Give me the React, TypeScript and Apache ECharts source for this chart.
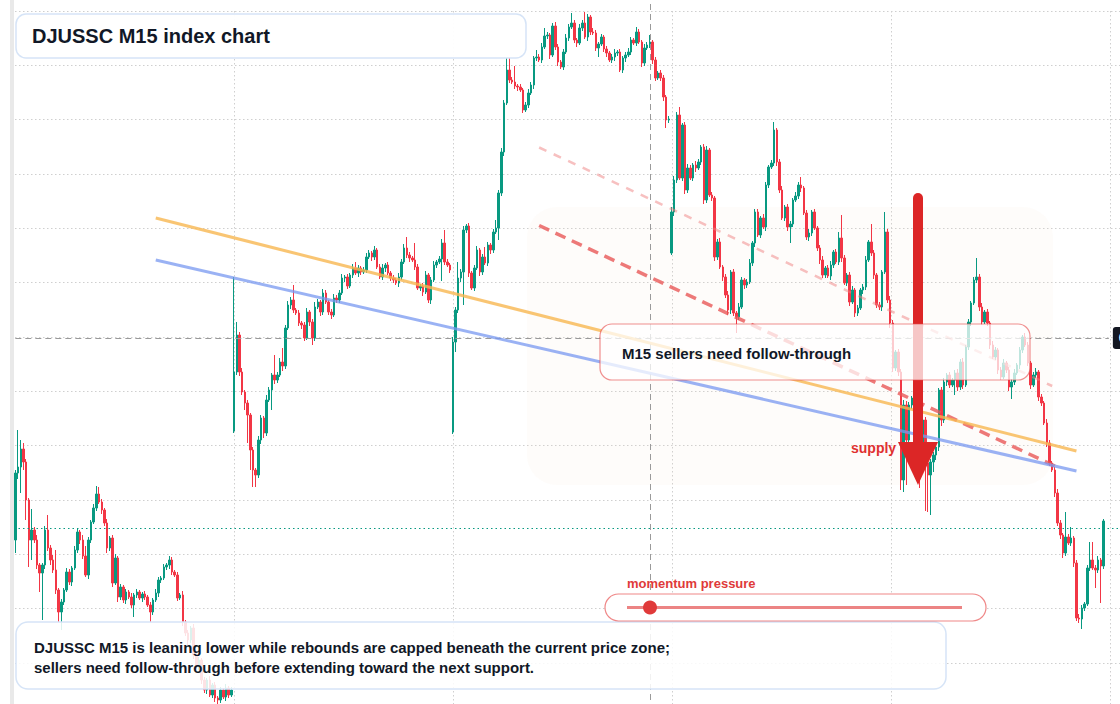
import React, { useEffect, useRef } from "react";
import * as echarts from "echarts";

// ---- data (index price units) ----
const closes = [
  527, 533, 551, 538, 500, 460, 470, 460, 435, 427,
  435, 470, 452, 440, 430, 410, 388, 398, 410, 428,
  418, 432, 450, 468, 460, 444, 425, 460, 478, 492,
  506, 498, 490, 477, 452, 462, 417, 442, 403, 413,
  400, 408, 403, 395, 405, 408, 402, 406, 403, 395,
  388, 400, 407, 420, 422, 433, 435, 440, 428, 425,
  402, 405, 378, 367, 360, 372, 345, 333, 340, 320,
  310, 320, 305, 315, 302, 300, 310, 303, 312, 305,
  310, 628, 665, 628, 608, 597, 585, 550, 530, 525,
  560, 582, 567, 600, 610, 625, 620, 625, 638, 634,
  672, 695, 700, 690, 687, 677, 675, 662, 688, 678,
  662, 693, 698, 688, 707, 698, 688, 685, 702, 700,
  707, 722, 723, 714, 725, 732, 727, 732, 728, 730,
  743, 747, 743, 750, 733, 723, 732, 735, 727, 722,
  720, 717, 723, 738, 752, 745, 742, 740, 733, 712,
  714, 708, 725, 700, 720, 735, 738, 741, 757, 738,
  735, 730, 658, 690, 722, 728, 770, 774, 727, 712,
  732, 750, 728, 743, 737, 755, 750, 768, 772, 807,
  848, 897, 930, 920, 918, 914, 913, 910, 890, 895,
  907, 915, 942, 943, 940, 953, 964, 965, 945, 974,
  953, 938, 933, 948, 962, 973, 977, 960, 957, 972,
  977, 963, 983, 968, 967, 952, 956, 963, 951, 947,
  940, 943, 947, 948, 930, 942, 945, 948, 960, 957,
  968, 958, 937, 952, 955, 958, 940, 922, 927, 922,
  903, 880, 881, 788, 820, 885, 822, 875, 810, 832,
  822, 835, 832, 838, 853, 800, 850, 805, 802, 743,
  758, 733, 723, 705, 690, 728, 687, 683, 693, 720,
  715, 718, 737, 757, 788, 765, 782, 773, 815, 833,
  837, 870, 838, 810, 782, 793, 773, 776, 800, 804,
  815, 812, 787, 763, 767, 788, 772, 752, 740, 725,
  732, 724, 735, 748, 738, 762, 742, 717, 725, 698,
  710, 687, 692, 710, 713, 740, 758, 747, 725, 695,
  693, 728, 768, 700, 677, 632, 648, 628, 520, 595,
  560, 595, 602, 580, 560, 557, 580, 537, 525, 538,
  545, 553, 610, 580, 618, 625, 615, 620, 627, 613,
  638, 615, 653, 678, 697, 720, 723, 693, 678, 688,
  677, 655, 643, 650, 630, 623, 637, 630, 613, 618,
  627, 635, 650, 663, 655, 637, 615, 625, 628, 603,
  597, 577, 557, 537, 530, 507, 477, 465, 447, 463,
  457, 462, 437, 382, 381, 392, 396, 432, 440, 432,
  430, 440, 434, 479,
];

// upper / lower shadow lengths beyond the body
const wickHi = [
  3, 37, 9, 6, 3, 2, 21, 3, 5, 2,
  2, 4, 15, 3, 5, 20, 2, 3, 2, 4,
  3, 2, 4, 3, 2, 5, 10, 3, 2, 4,
  8, 7, 3, 2, 4, 2, 3, 4, 2, 3,
  2, 3, 2, 4, 2, 3, 2, 2, 3, 2,
  3, 2, 4, 3, 2, 3, 2, 4, 3, 2,
  3, 2, 4, 2, 3, 2, 4, 2, 3, 2,
  3, 2, 4, 2, 3, 2, 3, 2, 4, 2,
  3, 95, 13, 3, 4, 2, 3, 2, 3, 2,
  4, 3, 2, 5, 3, 2, 20, 3, 4, 14,
  3, 4, 3, 15, 2, 3, 2, 3, 4, 2,
  3, 5, 3, 2, 4, 3, 2, 3, 4, 3,
  3, 4, 2, 3, 2, 4, 6, 3, 2, 3,
  4, 3, 2, 4, 2, 3, 4, 2, 3, 2,
  3, 2, 4, 3, 4, 11, 3, 2, 17, 3,
  2, 3, 4, 2, 3, 4, 2, 3, 4, 13,
  3, 2, 5, 3, 16, 3, 4, 2, 3, 2,
  3, 4, 2, 3, 10, 3, 2, 3, 8, 3,
  4, 3, 12, 12, 3, 16, 2, 3, 2, 3,
  4, 3, 2, 7, 3, 4, 8, 3, 2, 3,
  4, 3, 2, 3, 4, 3, 10, 3, 2, 4,
  3, 11, 3, 2, 4, 3, 2, 3, 2, 3,
  2, 3, 4, 2, 3, 2, 3, 4, 3, 2,
  5, 3, 2, 4, 3, 7, 2, 3, 2, 3,
  3, 2, 3, 5, 4, 3, 8, 2, 3, 4,
  3, 2, 4, 3, 2, 3, 4, 2, 3, 2,
  3, 4, 2, 3, 4, 2, 3, 2, 4, 3,
  2, 3, 4, 2, 3, 3, 2, 4, 3, 2,
  3, 8, 2, 3, 4, 2, 3, 3, 2, 4,
  3, 8, 2, 3, 4, 2, 3, 2, 3, 4,
  2, 3, 4, 2, 3, 6, 23, 3, 2, 3,
  4, 2, 3, 2, 3, 4, 2, 18, 3, 2,
  3, 2, 20, 3, 4, 3, 2, 3, 3, 5,
  4, 3, 2, 3, 4, 3, 2, 3, 4, 3,
  3, 4, 2, 3, 4, 2, 3, 2, 3, 4,
  3, 4, 2, 3, 2, 3, 19, 3, 4, 2,
  3, 2, 4, 3, 2, 3, 4, 2, 3, 3,
  4, 2, 3, 2, 4, 3, 2, 3, 4, 2,
  3, 2, 4, 3, 2, 3, 4, 3, 2, 25,
  3, 11, 2, 3, 4, 3, 2, 3, 18, 18,
  3, 4, 2, 2,
];

const wickLo = [
  13, 6, 26, 8, 20, 27, 20, 3, 4, 19,
  47, 4, 3, 5, 3, 4, 10, 18, 3, 2,
  3, 4, 2, 3, 4, 3, 2, 4, 3, 2,
  3, 2, 4, 3, 5, 3, 4, 2, 5, 3,
  3, 4, 2, 3, 12, 3, 2, 4, 3, 2,
  10, 3, 2, 4, 3, 2, 3, 4, 3, 2,
  3, 2, 4, 3, 5, 3, 4, 2, 3, 4,
  3, 4, 2, 3, 4, 6, 3, 2, 4, 3,
  2, 2, 3, 4, 3, 7, 28, 20, 17, 12,
  3, 4, 5, 3, 2, 20, 4, 3, 2, 5,
  3, 2, 4, 3, 2, 3, 4, 3, 2, 4,
  7, 3, 2, 4, 3, 2, 3, 4, 2, 3,
  3, 2, 4, 3, 2, 3, 2, 4, 3, 2,
  3, 2, 4, 3, 2, 2, 3, 4, 2, 3,
  3, 2, 4, 3, 2, 3, 4, 2, 3, 2,
  3, 4, 2, 3, 4, 2, 3, 2, 22, 3,
  2, 3, 2, 10, 3, 4, 33, 3, 4, 2,
  3, 2, 4, 3, 2, 3, 4, 3, 2, 12,
  3, 4, 2, 3, 2, 3, 4, 2, 3, 2,
  3, 2, 4, 3, 2, 3, 2, 3, 4, 2,
  3, 4, 2, 3, 2, 3, 2, 3, 4, 2,
  3, 2, 4, 3, 2, 3, 9, 2, 3, 4,
  2, 3, 4, 3, 2, 3, 4, 2, 3, 2,
  3, 2, 4, 3, 2, 3, 4, 3, 2, 3,
  4, 8, 3, 2, 4, 3, 2, 3, 4, 3,
  2, 3, 4, 2, 3, 4, 3, 2, 3, 4,
  3, 2, 4, 3, 5, 4, 3, 16, 3, 2,
  4, 3, 2, 3, 4, 2, 3, 2, 4, 3,
  2, 3, 4, 3, 2, 3, 4, 16, 3, 2,
  3, 4, 2, 3, 4, 3, 2, 3, 4, 3,
  3, 2, 4, 3, 2, 3, 4, 2, 3, 4,
  2, 4, 3, 2, 4, 3, 2, 3, 4, 3,
  3, 4, 2, 3, 5, 4, 3, 4, 10, 12,
  45, 6, 4, 5, 12, 45, 8, 48, 37, 40,
  10, 5, 4, 6, 3, 4, 3, 2, 15, 4,
  3, 4, 2, 3, 4, 2, 3, 4, 3, 2,
  3, 4, 2, 3, 4, 3, 2, 3, 4, 12,
  3, 2, 4, 3, 2, 3, 4, 2, 3, 4,
  3, 2, 4, 3, 2, 4, 3, 4, 5, 3,
  2, 3, 4, 3, 4, 10, 3, 2, 3, 2,
  18, 3, 37, 3,
];

// opens that gap away from the previous close
const gapOpens: Record<number, number> = { 0: 460, 81: 569, 162: 568, 243: 747 };

// annotation levels / trend lines [candle index, price]
const resistanceTrend = [[52, 782], [393, 549]];
const supportTrend = [[52, 740], [393, 529]];
const channelTop = [[194, 852.5], [384, 614]];
const channelBottom = [[194, 774.5], [385, 534]];
const crosshairIndex = 235;
const crosshairPrice = 662;
const crosshairLabel = "662.00";
const lastPriceLine = 472;
const slotCount = 425;

const categories = Array.from({ length: slotCount }, (_, i) => {
  const total = 9 * 60 + 30 + 15 * i;
  const day = Math.floor(total / 1440) + 1;
  const m = total % 1440;
  const hh = String(Math.floor(m / 60)).padStart(2, "0");
  const mm = String(m % 60).padStart(2, "0");
  return `D${day} ${hh}:${mm}`;
});

const candleData = closes.map((c, i) => {
  const o = gapOpens[i] !== undefined ? gapOpens[i] : closes[i - 1];
  const hi = Math.max(o, c) + wickHi[i];
  const lo = Math.min(o, c) - wickLo[i];
  return [o, c, lo, hi];
});

const FONT = '"Liberation Sans", Arial, Helvetica, sans-serif';
const UP = "#089981";
const DOWN = "#f23645";
const GRID_LINE = { color: "#cfcfcf", width: 1, type: [1.5, 2.5] as any };

function seg(pts: number[][], lineStyle: any, extra: any = {}) {
  return [
    { coord: pts[0], lineStyle, ...extra },
    { coord: pts[1] },
  ];
}

export default function App() {
  const ref = useRef<HTMLDivElement>(null);
  useEffect(() => {
    if (!ref.current) return;
    const chart = echarts.init(ref.current, undefined, { renderer: "svg" });
    const option: any = {
      animation: false,
      backgroundColor: "#ffffff",
      grid: [
        { left: 14, top: 0, width: 1147.5, height: 760, containLabel: false },
        { left: 15, top: 11, width: 1314, height: 706.3, containLabel: false },
      ],
      xAxis: [
        {
          type: "category",
          gridIndex: 0,
          data: categories,
          boundaryGap: true,
          show: false,
        },
        {
          type: "value",
          gridIndex: 1,
          min: 0,
          max: 6,
          interval: 1,
          axisLine: { show: false },
          axisTick: { show: false },
          axisLabel: { show: false },
          splitLine: { show: true, showMinLine: false, lineStyle: GRID_LINE },
        },
      ],
      yAxis: [
        { type: "value", gridIndex: 0, min: 240, max: 1000, show: false, splitLine: { show: false } },
        {
          type: "value",
          gridIndex: 1,
          min: 0,
          max: 13,
          interval: 1,
          axisLine: { show: false },
          axisTick: { show: false },
          axisLabel: { show: false },
          splitLine: { show: true, lineStyle: GRID_LINE },
        },
      ],
      series: [
        {
          type: "candlestick",
          xAxisIndex: 0,
          yAxisIndex: 0,
          data: candleData,
          barWidth: 2,
          itemStyle: {
            color: UP,
            color0: DOWN,
            borderColor: UP,
            borderColor0: DOWN,
            borderWidth: 1,
          },
          markLine: {
            silent: true,
            symbol: ["none", "none"],
            label: { show: false },
            data: [
              [
                {
                  coord: [0, crosshairPrice],
                  lineStyle: { color: "#9a9a9a", width: 1, type: [6, 4] },
                  label: {
                    show: true,
                    position: "end",
                    distance: 4,
                    formatter: crosshairLabel,
                    backgroundColor: "#131722",
                    color: "#ffffff",
                    fontFamily: FONT,
                    fontSize: 12,
                    fontWeight: "bold",
                    padding: [5, 6],
                    borderRadius: 3,
                  },
                },
                { coord: [405, crosshairPrice] },
              ],
              { xAxis: crosshairIndex, lineStyle: { color: "#9a9a9a", width: 1, type: [6, 4] } },
              { yAxis: lastPriceLine, lineStyle: { color: UP, width: 1.2, type: [1.5, 3] } },
              seg(channelTop, { color: "rgba(240, 130, 130, 0.5)", width: 2.5, type: [8, 8] }),
              seg(channelBottom, { color: "rgba(232, 88, 88, 0.8)", width: 3.5, type: [11, 7] }),
              seg(resistanceTrend, { color: "rgba(247, 183, 80, 0.8)", width: 3, type: "solid" }),
              seg(supportTrend, { color: "rgba(120, 152, 240, 0.75)", width: 3, type: "solid" }),
            ],
          },
        },
      ],
      graphic: [
        { type: "rect", z: 1, silent: true, shape: { x: 10, y: 0, width: 4, height: 704 }, style: { fill: "#e9e9e9" } },
        {
          type: "rect",
          z: 1,
          silent: true,
          shape: { x: 527, y: 207, width: 526, height: 278, r: 30 },
          style: { fill: "rgba(250, 226, 204, 0.1)" },
        },
        // supply arrow
        {
          type: "line",
          z: 20,
          silent: true,
          shape: { x1: 918, y1: 198, x2: 918, y2: 450 },
          style: { stroke: "#dc2626", lineWidth: 10, lineCap: "round" },
        },
        {
          type: "polygon",
          z: 20,
          silent: true,
          shape: { points: [[898, 442], [938, 442], [918, 485]] },
          style: { fill: "#dc2626" },
        },
        {
          type: "text",
          z: 21,
          silent: true,
          style: { x: 851, y: 448, text: "supply", fill: "#e03131", font: `bold 14px ${FONT}`, verticalAlign: "middle" },
        },
        // callout
        {
          type: "rect",
          z: 30,
          silent: true,
          shape: { x: 600, y: 324, width: 430, height: 56, r: 12 },
          style: { fill: "rgba(255,255,255,0.74)", stroke: "rgba(230, 70, 70, 0.6)", lineWidth: 1.2 },
        },
        {
          type: "text",
          z: 31,
          silent: true,
          style: {
            x: 622,
            y: 353,
            text: "M15 sellers need follow-through",
            fill: "#111827",
            font: `bold 15px ${FONT}`,
            verticalAlign: "middle",
          },
        },
        // title
        {
          type: "rect",
          z: 30,
          silent: true,
          shape: { x: 16, y: 14, width: 510, height: 44, r: 10 },
          style: { fill: "rgba(255,255,255,0.95)", stroke: "#d6e4f7", lineWidth: 1.5 },
        },
        {
          type: "text",
          z: 31,
          silent: true,
          style: { x: 32, y: 36, text: "DJUSSC M15 index chart", fill: "#111827", font: `bold 20px ${FONT}`, verticalAlign: "middle" },
        },
        // momentum pill
        {
          type: "text",
          z: 31,
          silent: true,
          style: { x: 627, y: 583, text: "momentum pressure", fill: "#e03a3a", font: `bold 13px ${FONT}`, verticalAlign: "middle" },
        },
        {
          type: "rect",
          z: 32,
          silent: true,
          shape: { x: 605, y: 594, width: 381, height: 27, r: 13.5 },
          style: { fill: "#ffffff", stroke: "rgba(230, 70, 70, 0.65)", lineWidth: 1.2 },
        },
        {
          type: "line",
          z: 33,
          silent: true,
          shape: { x1: 627, y1: 607.5, x2: 962, y2: 607.5 },
          style: { stroke: "rgba(228, 80, 80, 0.7)", lineWidth: 3 },
        },
        {
          type: "circle",
          z: 34,
          silent: true,
          shape: { cx: 650, cy: 607.5, r: 7 },
          style: { fill: "#e03a3a" },
        },
        // bottom note
        {
          type: "rect",
          z: 30,
          silent: true,
          shape: { x: 16, y: 622, width: 930, height: 67, r: 12 },
          style: { fill: "rgba(255,255,255,0.86)", stroke: "#d6e4f7", lineWidth: 1.5 },
        },
        {
          type: "text",
          z: 31,
          silent: true,
          style: {
            x: 34,
            y: 647,
            text: "DJUSSC M15 is leaning lower while rebounds are capped beneath the current price zone;",
            fill: "#111827",
            font: `bold 15px ${FONT}`,
            verticalAlign: "middle",
          },
        },
        {
          type: "text",
          z: 31,
          silent: true,
          style: {
            x: 34,
            y: 667,
            text: "sellers need follow-through before extending toward the next support.",
            fill: "#111827",
            font: `bold 15px ${FONT}`,
            verticalAlign: "middle",
          },
        },
      ],
    };
    chart.setOption(option);
    return () => chart.dispose();
  }, []);

  return (
    <div
      ref={ref}
      style={{ position: "fixed", left: 0, top: 0, width: 1340, height: 760, background: "#ffffff" }}
    />
  );
}
